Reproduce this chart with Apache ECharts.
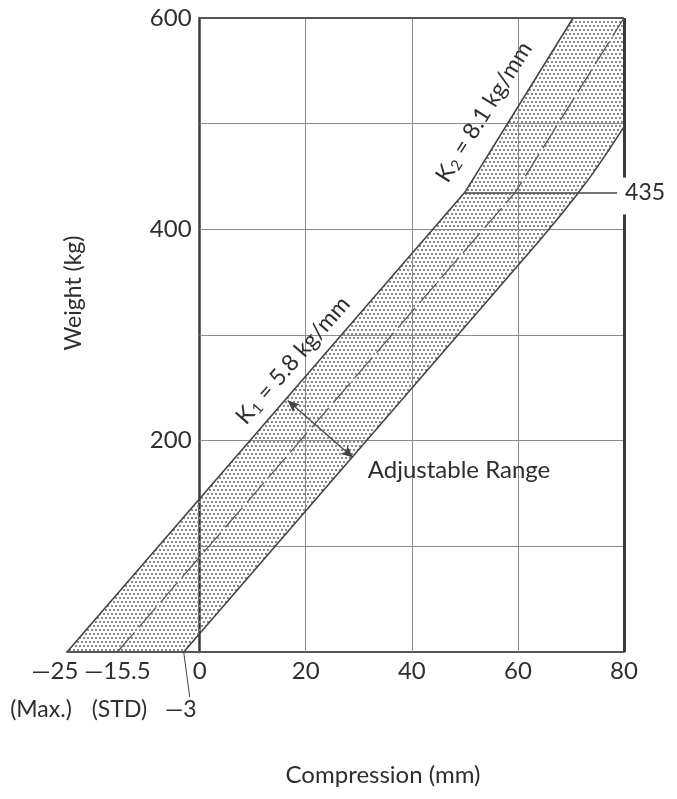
<!DOCTYPE html>
<html><head><meta charset="utf-8">
<script src="https://cdn.jsdelivr.net/npm/echarts@6/dist/echarts.min.js"></script>
<style>html,body{margin:0;padding:0;background:#fff}#c{width:677px;height:799px}</style>
</head><body><div id="c"></div>
<script>
// ---------- data ----------
const xTickValues = [-25, -15.5, 0, 20, 40, 60, 80];
const xTickLabels = ['—25', '—15.5', '0', '20', '40', '60', '80'];
const yTickValues = [200, 400, 600];
const gridXValues = [20, 40, 60];
const gridYValues = [100, 200, 300, 400, 500];
const upperX = [-25, 50, 70.4];          // K1 = 5.8 then K2 = 8.1 (max setting)
const upperY = [0, 435, 600];
const lowerX = [-3, 64, 68, 71, 74, 77, 80];      // min setting
const lowerY = [0, 389, 413, 432, 452, 474, 497];
const stdX = [-15.5, 59.5, 80];           // standard setting (dashed)
const stdY = [0, 435, 600];
const kneeWeight = 435;
const kneeX = [50, 78.7];
const arrowX = [16.6, 28.9];
const arrowY = [238, 184];
const noteTexts = ['(Max.)', '(STD)', '—3'];
const noteX = [-25, -15.5, -3];
const slopeTexts = ['{k|K}{s|1}{k| = 5.8 kg/mm}', '{k|K}{s|2}{k| = 8.1 kg/mm}'];
const slopeX = [17.6, 53.6];
const slopeY = [276, 511];
const slopeAngle = [49, 58];
const rangeText = 'Adjustable Range';
const rangeX = 48.9, rangeY = 172;
const xMin = -25, xMax = 80, yMin = 0, yMax = 600;
const rightGap = [414, 449];

// ---------- style ----------
const FONT = 'Lato, "Open Sans", sans-serif';
const TXT = '#2e2e2e';
const W = 677, GL = 67, GR = 53;

function dotPattern() {
  const c = document.createElement('canvas'); c.width = 8; c.height = 8;
  const g = c.getContext('2d');
  g.fillStyle = '#8a8a8a';
  [[1,1],[5,1],[3,5],[7,5]].forEach(p => g.fillRect(p[0], p[1], 2, 2));
  g.fillRect(0, 5, 1, 2);
  return c;
}
const pattern = {image: dotPattern(), repeat: 'repeat'};

const thin = {color: '#8c8c8c', width: 1, type: 'solid'};
const markLines = [];
gridYValues.forEach(y => markLines.push([{coord: [0, y], lineStyle: thin}, {coord: [xMax, y]}]));
gridXValues.forEach(x => markLines.push([{coord: [x, yMin], lineStyle: thin}, {coord: [x, yMax]}]));
markLines.push([{coord: [0, yMax], lineStyle: {color: '#555', width: 2, type: 'solid'}}, {coord: [xMax, yMax]}]);
markLines.push([{coord: [xMax, yMin], lineStyle: {color: '#3a3a3a', width: 3, type: 'solid'}}, {coord: [xMax, rightGap[0]]}]);
markLines.push([{coord: [xMax, rightGap[1]], lineStyle: {color: '#3a3a3a', width: 3, type: 'solid'}}, {coord: [xMax, yMax]}]);
markLines.push([{coord: [kneeX[0], kneeWeight], lineStyle: {color: '#444', width: 1.6, type: 'solid'},
  label: {show: true, position: 'end', distance: 8, formatter: String(kneeWeight), fontSize: 23, fontFamily: FONT, color: TXT}},
  {coord: [kneeX[1], kneeWeight]}]);

// y axis sits on x = 0
const yAxisOffset = -(0 - xMin) / (xMax - xMin) * (W - GL - GR);

const chart = echarts.init(document.getElementById('c'));
chart.setOption({
  animation: false,
  backgroundColor: '#fff',
  grid: {left: GL, right: GR, top: 18, bottom: 147, containLabel: false, outerBoundsMode: 'none'},
  xAxis: {
    type: 'value', min: xMin, max: xMax,
    name: 'Compression (mm)', nameLocation: 'middle', nameGap: 111, nameMoveOverlap: false,
    nameTextStyle: {fontFamily: FONT, fontSize: 24, color: TXT, padding: [0, 0, 0, 75]},
    axisLine: {show: true, onZero: true, lineStyle: {color: '#555', width: 2}},
    axisTick: {show: false}, splitLine: {show: false},
    axisLabel: {
      customValues: xTickValues, margin: 7,
      formatter: v => { const i = xTickValues.indexOf(v); const t = i >= 0 ? xTickLabels[i] : ''; return v === -25 ? '{sh|' + t + '}' : '{n|' + t + '}'; },
      rich: {
        n: {fontSize: 24, fontFamily: FONT, color: TXT},
        sh: {fontSize: 24, fontFamily: FONT, color: TXT, padding: [0, 24, 0, 0]}
      }
    }
  },
  yAxis: {
    type: 'value', min: yMin, max: yMax, interval: 200, offset: yAxisOffset,
    name: 'Weight (kg)', nameLocation: 'middle', nameGap: 115, nameMoveOverlap: false,
    nameTextStyle: {fontFamily: FONT, fontSize: 23, color: TXT, padding: [0, 0, 0, 84]},
    axisLine: {show: true, onZero: false, lineStyle: {color: '#3a3a3a', width: 2.5}},
    axisTick: {show: false}, splitLine: {show: false},
    axisLabel: {margin: 8, fontSize: 24, fontFamily: FONT, color: TXT,
      formatter: v => yTickValues.indexOf(v) >= 0 ? String(v) : ''}
  },
  series: [
    {
      type: 'custom', name: 'Adjustable range', coordinateSystem: 'cartesian2d', clip: false, z: 1,
      data: [[0, 0]], silent: true,
      renderItem: (params, api) => {
        const pts = [];
        upperX.forEach((x, i) => pts.push(api.coord([x, upperY[i]])));
        pts.push(api.coord([xMax, yMax]));
        for (let i = lowerX.length - 1; i >= 0; i--) pts.push(api.coord([lowerX[i], lowerY[i]]));
        return {type: 'polygon', shape: {points: pts}, style: {fill: pattern, stroke: null}};
      }
    },
    {
      type: 'line', name: 'Max', data: upperX.map((x, i) => [x, upperY[i]]), symbol: 'none', z: 4,
      lineStyle: {color: '#444', width: 1.6}, silent: true,
      markLine: {silent: true, symbol: 'none', label: {show: false}, animation: false, data: markLines, z: 2}
    },
    {
      type: 'line', name: 'Min', data: lowerX.map((x, i) => [x, lowerY[i]]), symbol: 'none', z: 4,
      lineStyle: {color: '#444', width: 1.6}, silent: true,
      markLine: {silent: true, symbol: ['arrow', 'arrow'], symbolSize: [8, 12], label: {show: false}, animation: false,
        lineStyle: {color: '#444', width: 1.2, type: 'solid'},
        data: [[{coord: [arrowX[0], arrowY[0]]}, {coord: [arrowX[1], arrowY[1]]}]]}
    },
    {
      type: 'line', name: 'STD', data: stdX.map((x, i) => [x, stdY[i]]), symbol: 'none', z: 4,
      lineStyle: {color: '#555', width: 1.2, type: [26, 7]}, silent: true
    },
    {
      type: 'custom', name: 'notes', coordinateSystem: 'cartesian2d', clip: false, z: 5, silent: true,
      data: [[0, 0]],
      renderItem: (params, api) => {
        const ch = [];
        const dx = [-26, 2, -3];
        noteX.forEach((x, i) => {
          const p = api.coord([x, 0]);
          ch.push({type: 'text', x: p[0] + dx[i], y: p[1] + 58,
            style: {text: noteTexts[i], font: '23px ' + FONT, fill: TXT, align: 'center', verticalAlign: 'middle'}});
        });
        const a = api.coord([noteX[2], 0]);
        ch.push({type: 'line', shape: {x1: a[0], y1: a[1], x2: a[0] + 6, y2: a[1] + 45}, style: {stroke: '#444', lineWidth: 1}});
        slopeTexts.forEach((t, i) => {
          const p = api.coord([slopeX[i], slopeY[i]]);
          ch.push({type: 'text', x: p[0], y: p[1], rotation: slopeAngle[i] * Math.PI / 180,
            style: {text: t, align: 'center', verticalAlign: 'middle', fill: TXT,
              rich: {k: {fontSize: 23, fontFamily: FONT, fill: TXT, color: TXT},
                     s: {fontSize: 15, fontFamily: FONT, fill: TXT, color: TXT, padding: [10, 1, 0, 1]}}}});
        });
        const r = api.coord([rangeX, rangeY]);
        ch.push({type: 'text', x: r[0], y: r[1],
          style: {text: rangeText, font: '24px ' + FONT, fill: TXT, align: 'center', verticalAlign: 'middle'}});
        return {type: 'group', children: ch};
      }
    }
  ]
});
</script>
</body></html>
